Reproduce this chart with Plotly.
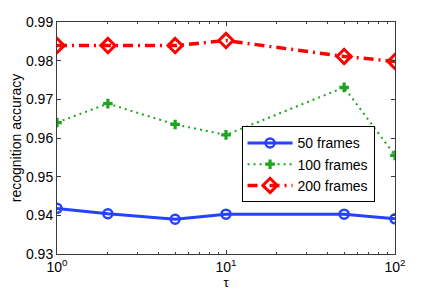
import plotly.graph_objects as go

tau = [1, 2, 5, 10, 50, 100]
acc_50 = [0.9418, 0.9404, 0.9390, 0.9403, 0.9403, 0.9391]
acc_100 = [0.9640, 0.9689, 0.9635, 0.9608, 0.9731, 0.9555]
acc_200 = [0.9839, 0.9839, 0.9839, 0.9852, 0.9811, 0.9798]
names = ["50 frames", "100 frames", "200 frames"]

x_tickvals = [1, 10, 100]
x_ticktext = ["10<sup>0</sup>", "10<sup>1</sup>", "10<sup>2</sup>"]
y_tickvals = [0.93, 0.94, 0.95, 0.96, 0.97, 0.98, 0.99]
y_ticktext = ["0.93", "0.94", "0.95", "0.96", "0.97", "0.98", "0.99"]
minor_vals = [2, 3, 4, 5, 6, 7, 8, 9, 20, 30, 40, 50, 60, 70, 80, 90]

fig = go.Figure()
fig.add_trace(go.Scatter(x=tau, y=acc_50, name=names[0], mode="lines+markers",
                         line=dict(color="#2442ff", width=3),
                         marker=dict(symbol="circle-open", size=9, color="#2442ff",
                                     line=dict(width=2.5, color="#2442ff"))))
fig.add_trace(go.Scatter(x=tau, y=acc_100, name=names[1], mode="lines+markers",
                         line=dict(color="#1ea51e", width=2, dash="2px,4px"),
                         marker=dict(symbol="cross", size=8, color="#1ea51e",
                                     line=dict(width=0))))
fig.add_trace(go.Scatter(x=tau, y=acc_200, name=names[2], mode="lines+markers",
                         line=dict(color="#ff0000", width=3.5, dash="10px,5px,2px,5px"),
                         marker=dict(symbol="diamond-open", size=11, color="#ff0000",
                                     line=dict(width=3, color="#ff0000"))))

axis_common = dict(showgrid=False, zeroline=False, showline=True, linecolor="#3a3a3a",
                   linewidth=1, mirror="ticks", ticks="inside", ticklen=4,
                   tickcolor="#3a3a3a", tickfont=dict(size=14, color="black"))

fig.update_xaxes(type="log", range=[0, 2], tickvals=x_tickvals, ticktext=x_ticktext,
                 title=dict(text="τ", font=dict(size=13, color="black"), standoff=2),
                 minor=dict(tickvals=minor_vals, ticks="inside", ticklen=2, tickcolor="#3a3a3a"),
                 automargin=False, **axis_common)
fig.update_yaxes(range=[0.93, 0.99], tickvals=y_tickvals, ticktext=y_ticktext,
                 title=dict(text="recognition accuracy", font=dict(size=14, color="black"), standoff=4),
                 automargin=False, **axis_common)

# body has an 8px default margin in the page, so the figure is offset by 8px
fig.update_layout(width=428, height=289, margin=dict(l=49, r=41, t=14, b=43),
                  paper_bgcolor="white", plot_bgcolor="white",
                  font=dict(family="Liberation Sans, Arial, sans-serif", size=14, color="black"),
                  legend=dict(x=0.546, y=0.55, xanchor="left", yanchor="top",
                              bordercolor="black", borderwidth=1, bgcolor="white",
                              font=dict(size=14), tracegroupgap=0, itemwidth=45),
                  showlegend=True)

fig.write_html("out.html")
